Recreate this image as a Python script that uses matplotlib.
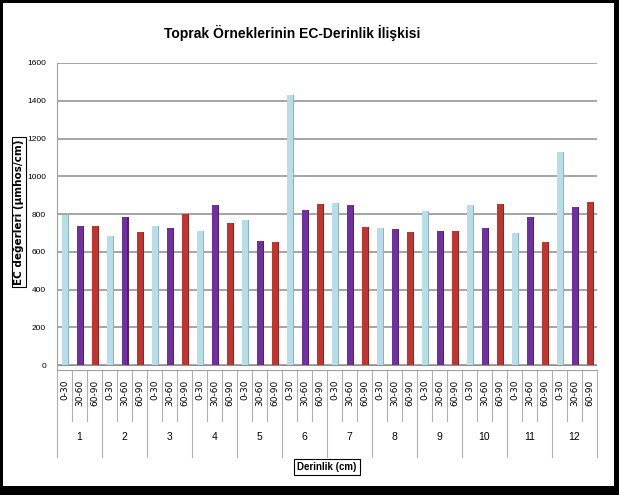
import matplotlib
matplotlib.use('Agg')
from matplotlib import pyplot as plt
from matplotlib.patches import Rectangle
import numpy as np

# data
groups = ['1', '2', '3', '4', '5', '6', '7', '8', '9', '10', '11', '12']
depths = ['0-30', '30-60', '60-90']
ec_0_30 = [795, 686, 737, 712, 771, 1432, 861, 725, 818, 850, 702, 1131]
ec_30_60 = [738, 783, 728, 850, 658, 822, 848, 723, 712, 726, 783, 840]
ec_60_90 = [738, 707, 800, 755, 654, 852, 730, 707, 710, 852, 654, 862]

face_colors = ['#B7DEE8', '#7030A0', '#C0352F']
side_colors = ['#8FB3BE', '#4F1F75', '#8E2320']

narrow = ['Liberation Sans Narrow', 'Liberation Sans', 'DejaVu Sans']

fig = plt.figure(figsize=(6.19, 4.95), dpi=100)
ax = fig.add_axes([57/619, 125/495, 540/619, 307/495])

n = len(groups)
series = [ec_0_30, ec_30_60, ec_60_90]
w = 0.4
side = 0.12
for s, vals in enumerate(series):
    x = np.arange(n)*3 + s
    # shaded side first, face drawn over it so no gap shows
    ax.bar(x + w/2 - 0.05, vals, width=side + 0.05, align='edge',
           color=side_colors[s], linewidth=0, zorder=3)
    ax.bar(x, vals, width=w, color=face_colors[s], linewidth=0, zorder=4)

ax.set_xlim(-0.5, 3*n - 0.5)
ax.set_ylim(-25, 1600)
ax.set_yticks(range(0, 1601, 200))
ax.set_yticklabels([str(v) for v in range(0, 1601, 200)], fontsize=6, family=narrow)
ax.tick_params(axis='y', length=0, pad=8)

ax.set_xticks(range(3*n))
ax.set_xticklabels(depths*n, rotation=90, fontsize=6.5, va='top')
ax.tick_params(axis='x', length=0, pad=7)

ax.grid(axis='y', color='#8c8c8c', linewidth=1.1, zorder=0)
ax.axhline(0, color='#a0a0a0', linewidth=0.8, zorder=1)
for sp in ['top', 'right']:
    ax.spines[sp].set_visible(False)
ax.spines['left'].set_color('#a0a0a0')
ax.spines['bottom'].set_color('#a0a0a0')

# separators under the axis
tr = ax.get_xaxis_transform()
for k in range(3*n + 1):
    low = -0.285 if k % 3 == 0 else -0.165
    ax.plot([k - 0.5, k - 0.5], [0, low], color='#b0b0b0', linewidth=0.8,
            transform=tr, clip_on=False)
for g in range(n):
    ax.text(g*3 + 1, -0.218, groups[g], transform=tr, ha='center', va='center',
            fontsize=7.5, family=narrow)

fig.text(292/619, 1 - 33/495, 'Toprak Örneklerinin EC-Derinlik İlişkisi',
         ha='center', va='center', fontsize=10, fontweight='bold', family=narrow)
fig.text(19/619, 1 - 212/495, 'EC değerleri (µmhos/cm)', rotation=90,
         ha='center', va='center', fontsize=7.5, fontweight='bold',
         bbox=dict(boxstyle='square,pad=0.2', facecolor='white', edgecolor='black', linewidth=0.8))
fig.text(327/619, 1 - 467/495, 'Derinlik (cm)', ha='center', va='center',
         fontsize=7, fontweight='bold', family=narrow,
         bbox=dict(boxstyle='square,pad=0.35', facecolor='white', edgecolor='black', linewidth=0.8))

# black frame around the picture
fw, fh = 619, 495
for (x0, y0, ww, hh) in [(0, 0, 3, fh), (fw - 5, 0, 5, fh), (0, fh - 3, fw, 3), (0, 0, fw, 9)]:
    fig.patches.append(Rectangle((x0/fw, y0/fh), ww/fw, hh/fh, transform=fig.transFigure,
                                 facecolor='black', edgecolor='none'))

fig.savefig('out.png', dpi=100)
